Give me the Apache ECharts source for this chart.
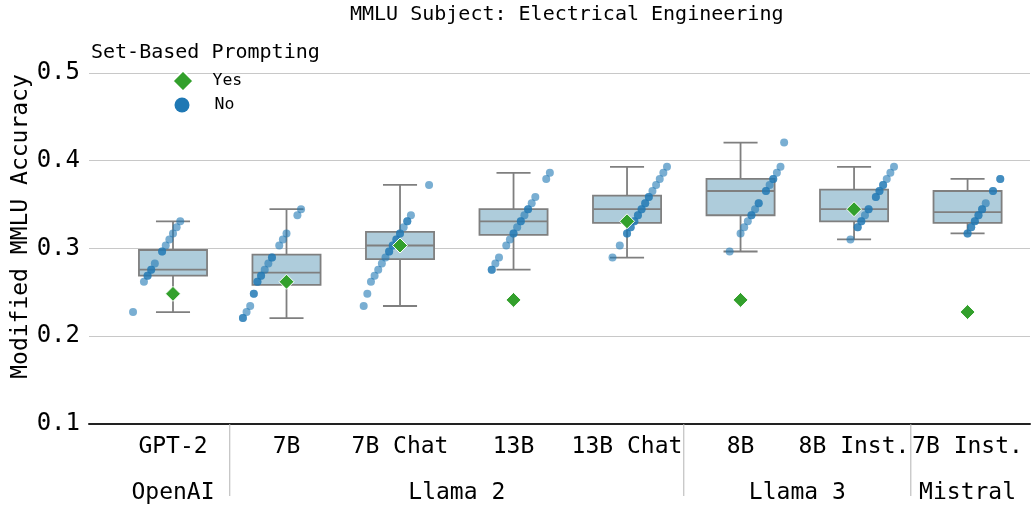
<!DOCTYPE html>
<html>
<head>
<meta charset="utf-8">
<script src="https://cdn.jsdelivr.net/npm/echarts@6/dist/echarts.min.js"></script>
<style>
  html, body { margin: 0; padding: 0; background: #fff; }
  #main { width: 1036px; height: 510px; }
</style>
</head>
<body>
<div id="main"></div>
<script>
const models = ['GPT-2', '7B', '7B Chat', '13B', '13B Chat', '8B', '8B Inst.', '7B Inst.'];
const groupNames = ['OpenAI', 'Llama 2', 'Llama 3', 'Mistral'];
const groupFirst = [0, 1, 5, 7];
const groupLast = [0, 4, 6, 7];

// accuracy without set-based prompting (one dot per option ordering)
const noGPT2 = [0.2276, 0.2621, 0.2690, 0.2690, 0.2759, 0.2759, 0.2828, 0.2966, 0.2966, 0.3034, 0.3103, 0.3172, 0.3241, 0.3310];
const no7B = [0.2207, 0.2207, 0.2276, 0.2345, 0.2483, 0.2483, 0.2621, 0.2621, 0.2690, 0.2690, 0.2759, 0.2828, 0.2897, 0.2897, 0.3034, 0.3103, 0.3172, 0.3379, 0.3448];
const no7BChat = [0.2345, 0.2483, 0.2621, 0.2690, 0.2759, 0.2828, 0.2897, 0.2966, 0.2966, 0.3034, 0.3034, 0.3103, 0.3103, 0.3172, 0.3172, 0.3241, 0.3310, 0.3310, 0.3379, 0.3724];
const no13B = [0.2759, 0.2759, 0.2828, 0.2897, 0.3034, 0.3103, 0.3172, 0.3172, 0.3241, 0.3310, 0.3310, 0.3379, 0.3448, 0.3448, 0.3517, 0.3586, 0.3793, 0.3862];
const no13BChat = [0.2897, 0.3034, 0.3172, 0.3172, 0.3241, 0.3241, 0.3310, 0.3310, 0.3379, 0.3379, 0.3448, 0.3448, 0.3517, 0.3517, 0.3586, 0.3586, 0.3655, 0.3724, 0.3793, 0.3862, 0.3931];
const no8B = [0.2966, 0.3172, 0.3241, 0.3310, 0.3379, 0.3379, 0.3448, 0.3517, 0.3517, 0.3655, 0.3655, 0.3724, 0.3793, 0.3793, 0.3862, 0.3931, 0.4207];
const no8BInst = [0.3103, 0.3241, 0.3241, 0.3310, 0.3310, 0.3379, 0.3448, 0.3448, 0.3586, 0.3586, 0.3655, 0.3655, 0.3724, 0.3724, 0.3793, 0.3862, 0.3931];
const no7BInst = [0.3172, 0.3172, 0.3241, 0.3241, 0.3310, 0.3310, 0.3379, 0.3379, 0.3448, 0.3448, 0.3517, 0.3655, 0.3655, 0.3793, 0.3793];
const noScores = [noGPT2, no7B, no7BChat, no13B, no13BChat, no8B, no8BInst, no7BInst];

// accuracy with set-based prompting
const yesScores = [0.2483, 0.2621, 0.3034, 0.2414, 0.3310, 0.2414, 0.3448, 0.2276];

// box stats
const boxMin = [0.2276, 0.2207, 0.2345, 0.2759, 0.2897, 0.2966, 0.3103, 0.3172];
const boxQ1 = [0.2690, 0.2586, 0.2879, 0.3155, 0.3293, 0.3379, 0.3310, 0.3293];
const boxMed = [0.2759, 0.2724, 0.3034, 0.3310, 0.3448, 0.3655, 0.3448, 0.3414];
const boxQ3 = [0.2983, 0.2931, 0.3190, 0.3448, 0.3603, 0.3793, 0.3672, 0.3655];
const boxMax = [0.3310, 0.3448, 0.3724, 0.3862, 0.3931, 0.4207, 0.3931, 0.3793];

const yMin = 0.1, yMax = 0.5, yStep = 0.1;
const font = 'DejaVu Sans Mono';

// seaborn-like dodge: every distinct score is its own hue level
const levels = Array.from(new Set([].concat(...noScores))).sort((a, b) => a - b);
function dodge(v) {
    return -0.4 + 0.8 * (levels.indexOf(v) + 0.5) / levels.length;
}

const noPoints = [];
noScores.forEach((arr, i) => arr.forEach(v => noPoints.push([i + dodge(v), v])));
const yesPoints = yesScores.map((v, i) => [i, v]);
const boxData = models.map((m, i) => [i, boxMin[i], boxQ1[i], boxMed[i], boxQ3[i], boxMax[i]]);
const groupData = groupNames.map((g, k) => [(groupFirst[k] + groupLast[k]) / 2, groupFirst[k] - 0.5, k]);

function renderBox(params, api) {
    const i = api.value(0);
    const lo = api.coord([i, api.value(1)]);
    const q1 = api.coord([i, api.value(2)]);
    const md = api.coord([i, api.value(3)]);
    const q3 = api.coord([i, api.value(4)]);
    const hi = api.coord([i, api.value(5)]);
    const bw = api.size([0.6, 0])[0];
    const cw = api.size([0.3, 0])[0];
    const x = lo[0];
    const ls = { stroke: '#7f7f7f', lineWidth: 1.8 };
    return {
        type: 'group',
        children: [
            { type: 'line', shape: { x1: x, y1: lo[1], x2: x, y2: q1[1] }, style: ls },
            { type: 'line', shape: { x1: x, y1: q3[1], x2: x, y2: hi[1] }, style: ls },
            { type: 'line', shape: { x1: x - cw / 2, y1: lo[1], x2: x + cw / 2, y2: lo[1] }, style: ls },
            { type: 'line', shape: { x1: x - cw / 2, y1: hi[1], x2: x + cw / 2, y2: hi[1] }, style: ls },
            { type: 'rect', shape: { x: x - bw / 2, y: q3[1], width: bw, height: q1[1] - q3[1] },
              style: { fill: '#aeccdb', stroke: '#7f7f7f', lineWidth: 1.8 } },
            { type: 'line', shape: { x1: x - bw / 2, y1: md[1], x2: x + bw / 2, y2: md[1] }, style: ls }
        ]
    };
}

function renderGroup(params, api) {
    const c = api.coord([api.value(0), yMin]);
    const b = api.coord([api.value(1), yMin]);
    const k = api.value(2);
    const children = [{
        type: 'text', x: c[0], y: c[1] + 69,
        style: { text: groupNames[k], fontSize: 23, fontFamily: font, fill: '#000', align: 'center', verticalAlign: 'middle' }
    }];
    if (k > 0) {
        children.push({ type: 'line', shape: { x1: b[0], y1: b[1], x2: b[0], y2: b[1] + 72 },
            style: { stroke: '#b4b4b4', lineWidth: 1 } });
    }
    return { type: 'group', children: children };
}

const legendText = { fontSize: 16.5, fontFamily: font, color: '#000', padding: [0, 0, 0, 14] };

const chart = echarts.init(document.getElementById('main'));
chart.setOption({
    animation: false,
    title: [
        { text: 'MMLU Subject: Electrical Engineering', left: 345, top: 0,
          textStyle: { fontSize: 20, fontWeight: 'normal', fontFamily: font, color: '#000' } },
        { text: 'Set-Based Prompting', left: 86, top: 38,
          textStyle: { fontSize: 20, fontWeight: 'normal', fontFamily: font, color: '#000' } }
    ],
    legend: [
        { orient: 'vertical', left: 166.5, top: 64.5, itemWidth: 21, itemHeight: 21,
          textStyle: legendText, data: [{ name: 'Yes', icon: 'diamond', itemStyle: { opacity: 1 } }] },
        { orient: 'vertical', left: 169.5, top: 91.5, itemWidth: 15, itemHeight: 15,
          textStyle: Object.assign({}, legendText, { padding: [0, 0, 0, 20] }),
          data: [{ name: 'No', icon: 'circle', itemStyle: { opacity: 1 } }] }
    ],
    grid: [
        { left: 89, right: 6, top: 73, bottom: 86, containLabel: false, outerBoundsMode: 'none' },
        { left: 116.25, right: 11.75, top: 73, bottom: 86, containLabel: false, outerBoundsMode: 'none' }
    ],
    xAxis: [
        { gridIndex: 0, type: 'value', min: -0.74, max: 7.55,
          axisLine: { show: true, onZero: false, lineStyle: { color: '#222', width: 2 } },
          axisTick: { show: false }, axisLabel: { show: false }, splitLine: { show: false } },
        { gridIndex: 1, type: 'category', data: models,
          axisLine: { show: false }, axisTick: { show: false },
          axisLabel: { interval: 0, fontSize: 23, fontFamily: font, color: '#000', margin: 12 } }
    ],
    yAxis: [
        { gridIndex: 0, type: 'value', min: yMin, max: yMax, interval: yStep,
          name: 'Modified MMLU Accuracy', nameLocation: 'middle', nameGap: 56, nameMoveOverlap: false,
          nameTextStyle: { fontSize: 23, fontFamily: font, color: '#000', padding: [0, 0, 0, 44] },
          axisLine: { show: false }, axisTick: { show: false },
          axisLabel: { fontSize: 24, fontFamily: font, color: '#000', margin: 9, formatter: v => v.toFixed(1) },
          splitLine: { lineStyle: { color: '#c8c8c8', width: 1.2 } } },
        { gridIndex: 1, type: 'value', min: yMin, max: yMax, show: false }
    ],
    series: [
        { type: 'custom', name: 'box', xAxisIndex: 0, yAxisIndex: 0, data: boxData, renderItem: renderBox, z: 2, silent: true },
        { type: 'scatter', name: 'No', xAxisIndex: 0, yAxisIndex: 0, data: noPoints,
          symbol: 'circle', symbolSize: 8, itemStyle: { color: '#1f78b4', opacity: 0.6 }, z: 3 },
        { type: 'scatter', name: 'Yes', xAxisIndex: 0, yAxisIndex: 0, data: yesPoints,
          symbol: 'diamond', symbolSize: 15, itemStyle: { color: '#33a02c', borderColor: '#fff', borderWidth: 1, opacity: 1 }, z: 4 },
        { type: 'custom', name: 'groups', xAxisIndex: 0, yAxisIndex: 0, data: groupData, renderItem: renderGroup, clip: false, silent: true }
    ]
});
</script>
</body>
</html>
